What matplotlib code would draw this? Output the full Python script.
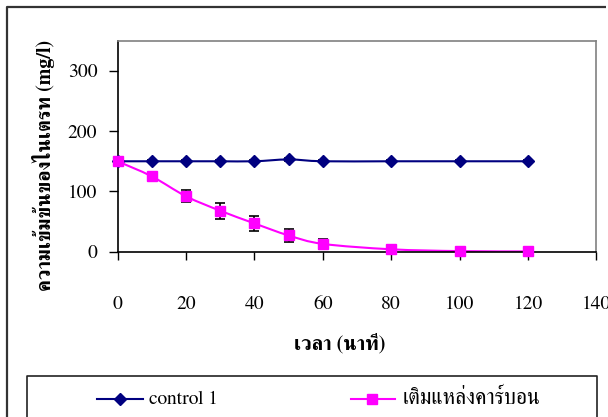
import matplotlib
matplotlib.use("Agg")
import matplotlib.pyplot as plt
import numpy as np
from matplotlib.path import Path
from matplotlib.patches import PathPatch
from matplotlib.lines import Line2D

plt.rcParams['font.family'] = ['FreeSerif', 'Liberation Serif', 'DejaVu Serif']

# ---- data ----
time_min = [0, 10, 20, 30, 40, 50, 60, 80, 100, 120]
control1 = [150, 150, 150, 150, 150, 153, 150, 150, 150, 150]
control1_err = [2, 2, 2, 2, 2, 2, 2, 2, 2, 2]
carbon = [150, 125, 92, 68, 47, 27, 13, 4, 1, 0.5]
carbon_err = [0, 5, 10, 13, 12, 11, 8, 5, 2, 1]
series_labels = ["control 1", "เติมแหล่งคาร์บอน"]
xlabel = "เวลา (นาที)"
ylabel = "ความเข้มข้นของไนเตรท (mg/l)"
xticks = [0, 20, 40, 60, 80, 100, 120, 140]
yticks = [0, 100, 200, 300]

W, H = 608, 417
fig = plt.figure(figsize=(W / 100, H / 100), dpi=100)
fig.patch.set_edgecolor('none')
fig.patch.set_linewidth(0)

def fx(px):
    return px / W

def fy(py):
    return 1 - py / H

ax = fig.add_axes([fx(117.5), fy(251.7), fx(596.4) - fx(117.5), fy(40.7) - fy(251.7)])
ax.set_xlim(0, 140)
ax.set_ylim(0, 350)


def smooth_path(xs, ys):
    pts = np.column_stack([xs, ys]).astype(float)
    n = len(pts)
    verts = [pts[0]]
    codes = [Path.MOVETO]
    for i in range(n - 1):
        p0 = pts[i - 1] if i > 0 else pts[i]
        p1 = pts[i]
        p2 = pts[i + 1]
        p3 = pts[i + 2] if i + 2 < n else pts[i + 1]
        c1 = p1 + (p2 - p0) / 6.0
        c2 = p2 - (p3 - p1) / 6.0
        verts += [c1, c2, p2]
        codes += [Path.CURVE4] * 3
    return Path(verts, codes)

navy = "#000080"
magenta = "#FF00FF"

for ys, err, col, mk, ms in [(control1, control1_err, navy, 'D', 6.4),
                              (carbon, carbon_err, magenta, 's', 7.8)]:
    ax.add_patch(PathPatch(smooth_path(time_min, ys), facecolor='none',
                           edgecolor=col, lw=1.5, zorder=2))
    ax.errorbar(time_min, ys, yerr=err, fmt='none', ecolor='black',
                elinewidth=1.2, capsize=3.5, capthick=1.2, zorder=3)
    ax.plot(time_min, ys, linestyle='none', marker=mk, ms=ms, color=col,
            markeredgecolor=col, zorder=4, clip_on=False)

ax.set_xticks(xticks)
ax.set_yticks(yticks)
ax.tick_params(axis='x', direction='out', length=6, width=1, pad=26,
               labelsize=14, colors='black')
ax.tick_params(axis='y', direction='out', length=6.5, width=1, pad=8,
               labelsize=14, colors='black')
for s in ['top', 'right']:
    ax.spines[s].set_color('#808080')
    ax.spines[s].set_linewidth(1.2)
for s in ['left', 'bottom']:
    ax.spines[s].set_color('black')
    ax.spines[s].set_linewidth(1.2)

fig.text(fx(43), fy(165), ylabel, rotation=90, ha='center', va='center',
         fontsize=14.5, fontweight='bold')
fig.text(fx(340), fy(343), xlabel, ha='center', va='center',
         fontsize=14.5, fontweight='bold')

# outer chart frame (left and top edges visible)
fig.lines.append(Line2D([fx(7), fx(7), fx(606)], [fy(417), fy(7), fy(7)],
                        color='#333333', lw=1.6, solid_capstyle='butt',
                        transform=fig.transFigure))
# legend box (bottom runs off the picture)
fig.lines.append(Line2D([fx(27), fx(27), fx(597), fx(597)],
                        [fy(417), fy(375.7), fy(375.7), fy(417)],
                        color='#222222', lw=1.2, solid_capstyle='butt',
                        transform=fig.transFigure))
leg_y = fy(399)
for (x0, x1, xm, xt), col, mk, ms, lab, fs in [((97, 143, 119.5, 149), navy, 'D', 6.4, series_labels[0], 14),
                                              ((351, 395, 371.5, 403), magenta, 's', 7.8, series_labels[1], 15.5)]:
    fig.lines.append(Line2D([fx(x0), fx(x1)], [leg_y, leg_y], color=col, lw=1.5,
                            transform=fig.transFigure))
    fig.lines.append(Line2D([fx(xm)], [leg_y], marker=mk, ms=ms, color=col,
                            linestyle='none', transform=fig.transFigure))
    fig.text(fx(xt), leg_y, lab, ha='left', va='center', fontsize=fs)

fig.savefig("out.png", dpi=100)
